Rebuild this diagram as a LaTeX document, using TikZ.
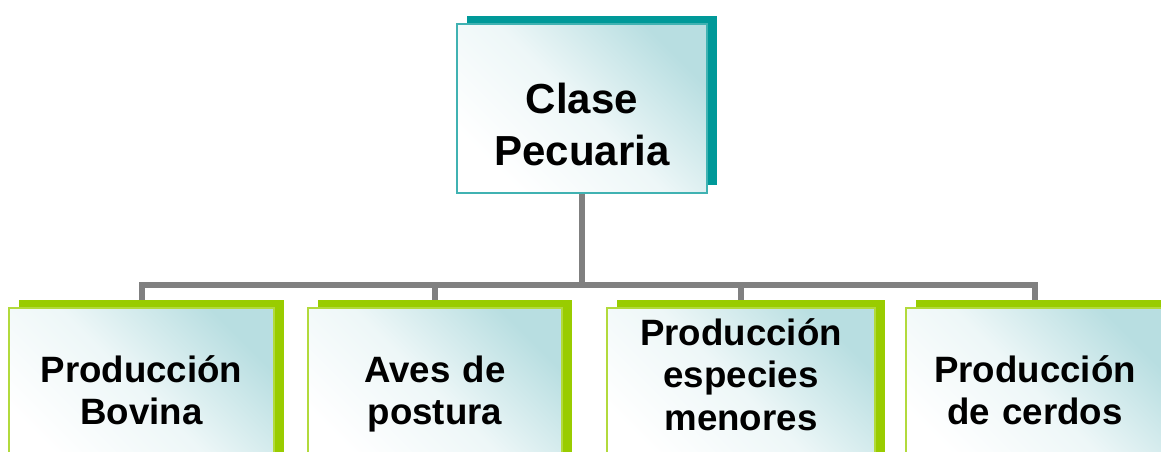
\documentclass[tikz,border=0pt]{standalone}
\usepackage{fontspec}
\setmainfont{Liberation Sans}
\usetikzlibrary{shadows,backgrounds}

\begin{document}
\begin{tikzpicture}[x=0.75pt,y=-0.75pt]

	\definecolor{tealdark}{RGB}{0,153,153}
	\definecolor{tealline}{RGB}{64,178,178}
	\definecolor{tealsoft}{RGB}{184,222,225}
	\definecolor{limegreen}{RGB}{153,204,0}
	\definecolor{limeline}{RGB}{178,218,60}
	\definecolor{linegray}{RGB}{128,128,128}

	\path[use as bounding box, clip] (0,0) rectangle (1161,451);

	\tikzset{box/.style = {shape=rectangle, top color=tealsoft, bottom color=white, middle color=tealsoft!25!white, shading angle=-45, line width=1.5pt, align=center, inner sep=0pt}}
	\tikzset{parent/.style = {box, draw=tealline, general shadow={fill=tealdark, shadow xshift=7.5pt, shadow yshift=6pt}, minimum width=187.5pt, minimum height=126.75pt, text width=180pt, text height=45.75pt, text depth=39pt, font=\fontsize{31.5}{39}\selectfont\bfseries}}
	\tikzset{child/.style = {box, draw=limeline, general shadow={fill=limegreen, shadow xshift=7.5pt, shadow yshift=6pt}, minimum height=123pt, text width=185pt, text height=20.25pt, text depth=32pt, font=\fontsize{27.5}{32}\selectfont\bfseries}}
	\tikzset{conn/.style = {draw=linegray, line width=4.5pt}}

	\node[parent] (pecuaria) at (582,108.5) {Clase\\Pecuaria};

	\node[child, minimum width=198.75pt] (bovina) at (141.5,390) {Producción\\Bovina};
	\node[child, minimum width=190.5pt] (aves) at (435,390) {Aves de\\postura};
	\node[child, minimum width=201pt, text depth=87.75pt] (especies) at (741,390) {Producción\\especies\\menores};
	\node[child, minimum width=193.5pt] (cerdos) at (1035,390) {Producción\\de cerdos};

	\begin{scope}[on background layer]
	\foreach \c in {bovina,aves,especies,cerdos}
		\draw[conn] (pecuaria.south) -- ++(0,91) -| (\c.north);
	\end{scope}
\end{tikzpicture}
\end{document}
